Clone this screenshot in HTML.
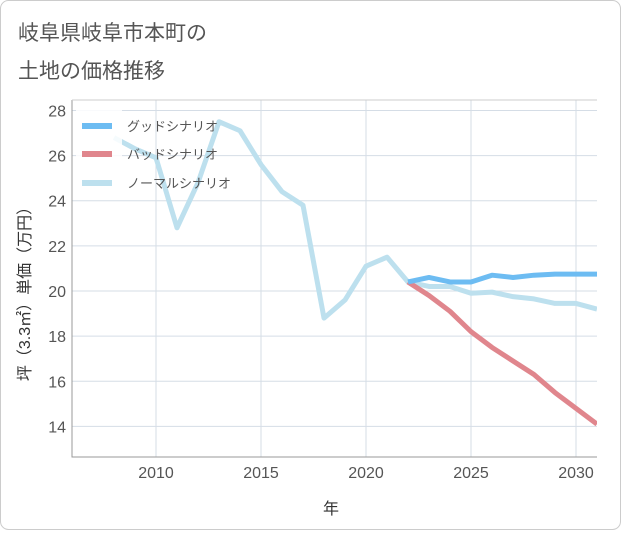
<!DOCTYPE html>
<html><head><meta charset="utf-8"><style>
body{margin:0;background:#fff;font-family:"Liberation Sans","Noto Sans CJK JP",sans-serif;}
</style></head><body>
<svg width="621" height="530" xmlns="http://www.w3.org/2000/svg" style="font-family:'Liberation Sans','Noto Sans CJK JP',sans-serif">
<defs><clipPath id="pc"><rect x="72" y="100" width="525" height="357"/></clipPath></defs>
<rect x="0.5" y="0.5" width="620" height="529" rx="8" fill="#fff" stroke="#ccc"/>
<text x="18" y="40" font-size="21" fill="#555">岐阜県岐阜市本町の</text>
<text x="18" y="78" font-size="21" fill="#555">土地の価格推移</text>
<g id="grid"></g>
<g id="series" clip-path="url(#pc)"></g>
<g id="axes"></g>
<text x="331" y="514" font-size="16" fill="#333" text-anchor="middle">年</text>
<text transform="translate(30,290) rotate(-90)" font-size="16" fill="#333" text-anchor="middle">坪（3.3㎡）単価（万円）</text>
<g>
<rect x="76" y="103" width="46" height="97" fill="#fff" opacity="0.85"/>
<line x1="82" y1="126" x2="112" y2="126" stroke="#6dbcf2" stroke-width="6"/>
<text x="127" y="131" font-size="13" fill="#555">グッドシナリオ</text>
<line x1="82" y1="154" x2="112" y2="154" stroke="#e0868d" stroke-width="6"/>
<text x="127" y="159" font-size="13" fill="#555">バッドシナリオ</text>
<line x1="82" y1="183" x2="112" y2="183" stroke="#bde0ee" stroke-width="6"/>
<text x="127" y="188" font-size="13" fill="#555">ノーマルシナリオ</text>
</g>
</svg>
<script>
const yTicks=[14,16,18,20,22,24,26,28];
const xTicks=[2010,2015,2020,2025,2030];
const normalYears=[2008,2009,2010,2011,2012,2013,2014,2015,2016,2017,2018,2019,2020,2021,2022,2023,2024,2025,2026,2027,2028,2029,2030,2031];
const normalVals=[26.8,26.3,25.9,22.8,24.8,27.5,27.1,25.6,24.4,23.8,18.8,19.6,21.1,21.5,20.4,20.2,20.2,19.9,19.95,19.75,19.65,19.45,19.45,19.2];
const scenYears=[2022,2023,2024,2025,2026,2027,2028,2029,2030,2031];
const goodVals=[20.4,20.6,20.4,20.4,20.7,20.6,20.7,20.75,20.75,20.75];
const badVals=[20.4,19.8,19.1,18.2,17.5,16.9,16.3,15.5,14.8,14.1];
const NS="http://www.w3.org/2000/svg";
const L=72,R=597,T=100,B=457;
const x=v=>156+(v-2010)*21;
const y=v=>291-(v-20)*22.57;
function mk(t,a,p){const e=document.createElementNS(NS,t);for(const k in a)e.setAttribute(k,a[k]);p.appendChild(e);return e;}
const grid=document.getElementById('grid'),axes=document.getElementById('axes'),ser=document.getElementById('series');
yTicks.forEach(v=>{
 const l=mk('line',{x1:L,x2:R,y1:y(v),y2:y(v),stroke:'#d5dde6','stroke-width':1},grid);
 
 
 const t=mk('text',{x:L-6,y:y(v)+6,'text-anchor':'end','font-size':16,fill:'#555'},axes);
 t.textContent=v;
 
 
});
xTicks.forEach(v=>{
 const l=mk('line',{x1:x(v),x2:x(v),y1:T,y2:B,stroke:'#d5dde6','stroke-width':1},grid);
 
 
 const t=mk('text',{x:x(v),y:B+21,'text-anchor':'middle','font-size':16,fill:'#555'},axes);
 t.textContent=v;
 
 
});
const ax=mk('path',{d:`M${L},${T}V${B}H${R}`,fill:'none',stroke:'#999','stroke-width':1},axes);


const plotTop=mk('line',{x1:L,x2:R,y1:T,y2:T,stroke:'#ccc'},axes);


function drawLine(xs,vs,c,name){
 const d=xs.map((a,i)=>(i?'L':'M')+x(a)+','+y(vs[i])).join('');
 const p=mk('path',{d:d,fill:'none',stroke:c,'stroke-width':5,'stroke-linejoin':'round'},ser);
 
 
}
drawLine(normalYears,normalVals,'#bde0ee','normal-line');
drawLine(scenYears,badVals,'#e0868d','bad-line');
drawLine(scenYears,goodVals,'#6dbcf2','good-line');
</script>
</body></html>
